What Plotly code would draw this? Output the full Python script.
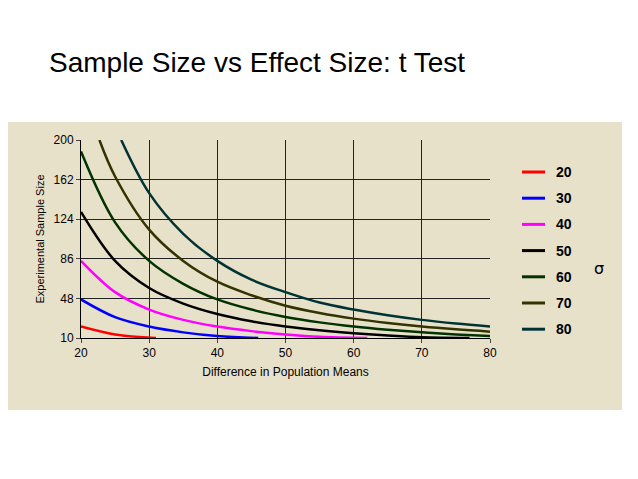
import plotly.graph_objects as go

sigmas = ["20", "30", "40", "50", "60", "70", "80"]
colors = ["#FF0000", "#0000FF", "#FF00FF", "#000000", "#003300", "#333300", "#003333"]
xs = {
    "20": [20, 25, 31],
    "30": [20, 25, 30, 35, 40, 46],
    "40": [20, 25, 30, 35, 40, 45, 50, 55, 62],
    "50": [20, 25, 30, 35, 40, 45, 50, 55, 60, 65, 70, 77],
    "60": [20, 25, 30, 35, 40, 45, 50, 55, 60, 65, 70, 75, 80],
    "70": [22.7, 25, 30, 35, 40, 45, 50, 55, 60, 65, 70, 75, 80],
    "80": [25.9, 30, 35, 40, 45, 50, 55, 60, 65, 70, 75, 80],
}
ys = {
    "20": [21, 13.4, 10],
    "30": [47, 30, 21, 15.4, 11.8, 10],
    "40": [84, 54, 37.3, 27.4, 21, 16.6, 13.4, 11.1, 10],
    "50": [131, 84, 58, 43, 33, 26, 21, 17.4, 14.6, 12.4, 10.7, 10],
    "60": [189, 121, 84, 62, 47, 37.3, 30.2, 25, 21, 17.9, 15.4, 13.4, 11.8],
    "70": [200, 165, 114, 84, 64, 51, 41, 34, 28.6, 24.4, 21, 18.3, 16.1],
    "80": [200, 149, 110, 84, 66, 54, 44, 37.3, 31.8, 27.4, 23.9, 21],
}
x_ticks = [20, 30, 40, 50, 60, 70, 80]
y_ticks = [10, 48, 86, 124, 162, 200]

fig = go.Figure()
for s, c in zip(sigmas, colors):
    fig.add_trace(go.Scatter(x=xs[s], y=ys[s], mode="lines", line=dict(color=c, width=2.5, shape="spline"),
                             showlegend=False, name=s))

OFF = 8
L, T, R, B = 81 - OFF, 140 - OFF, 490 - OFF, 338 - OFF
W, H = R - L, B - T
def px(xp): return (xp - OFF - L) / W
def py(yp): return (B - (yp - OFF)) / H

shapes = [dict(type="rect", xref="paper", yref="paper", x0=px(8), x1=px(622), y0=py(410), y1=py(122),
               fillcolor="#E8E1CA", line=dict(width=0), layer="below")]
ann = [dict(text="σ", xref="paper", yref="paper", x=px(606), y=py(268), yanchor="middle", showarrow=False,
            font=dict(size=16, color="black", family="DejaVu Sans"))]
for i, (s, c) in enumerate(zip(sigmas, colors)):
    yp = 172 + i * 26.2
    shapes.append(dict(type="line", xref="paper", yref="paper", x0=px(522), x1=px(545), y0=py(yp), y1=py(yp),
                       line=dict(color=c, width=3)))
    ann.append(dict(text="<b>%s</b>" % s, xref="paper", yref="paper", x=px(554), y=py(yp), xanchor="left",
                    yanchor="middle", showarrow=False, font=dict(size=14, color="black", family="Arial")))

fig.update_layout(
    width=638, height=479, margin=dict(l=L, r=638 - R, t=T, b=479 - B),
    paper_bgcolor="white", plot_bgcolor="#E8E1CA",
    title=dict(text="Sample Size vs Effect Size: t Test", x=(49 - OFF) / 638, xref="container", xanchor="left",
               y=1 - (62 - OFF) / 479, yref="container", yanchor="middle",
               font=dict(size=28, color="black", family="Arial")),
    font=dict(family="Arial", color="black", size=12),
    shapes=shapes, annotations=ann,
)
fig.update_xaxes(range=[20, 80], tickvals=x_ticks, showgrid=True, gridcolor="#222", gridwidth=1,
                 showline=True, linecolor="black", ticks="outside", ticklen=4, zeroline=False,
                 title=dict(text="Difference in Population Means", font=dict(size=12), standoff=8))
fig.update_yaxes(range=[10, 200], tickvals=y_ticks, showgrid=True, gridcolor="#222", gridwidth=1,
                 showline=True, linecolor="black", ticks="outside", ticklen=4, zeroline=False,
                 title=dict(text="Experimental Sample Size", font=dict(size=11), standoff=6))
fig.write_html("out.html")
